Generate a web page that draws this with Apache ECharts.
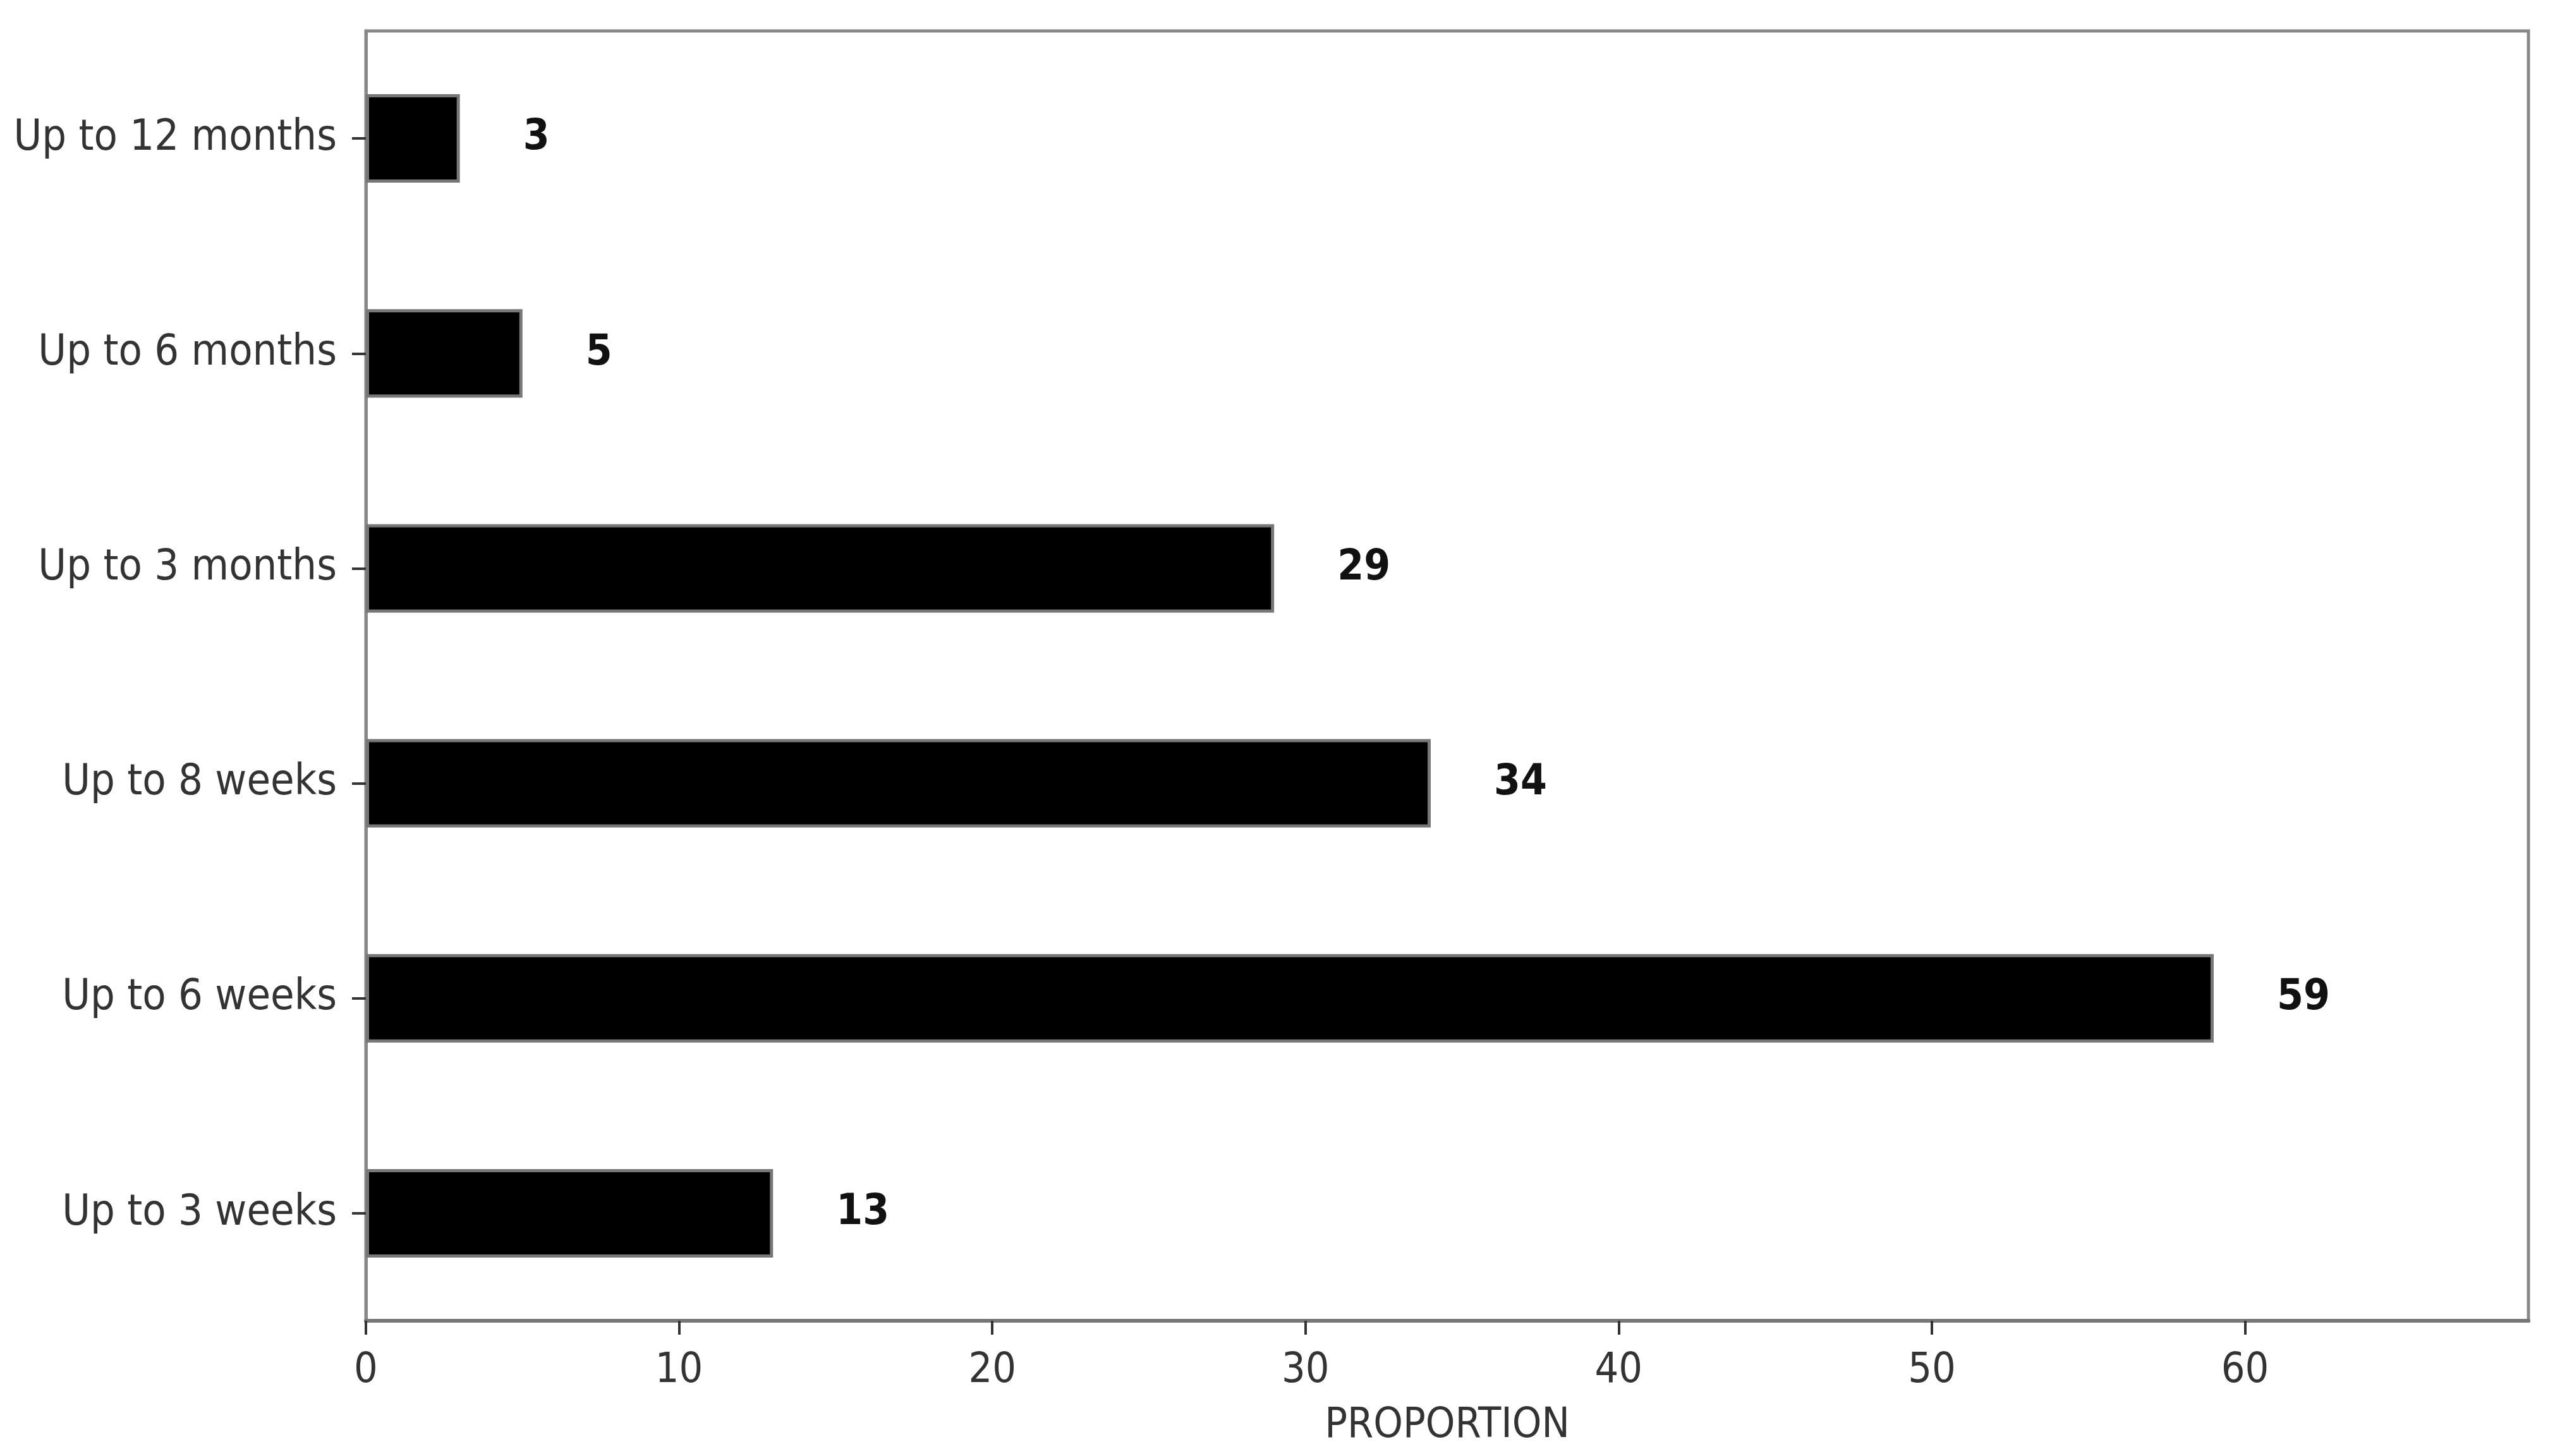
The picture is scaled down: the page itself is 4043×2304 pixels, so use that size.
<!DOCTYPE html>
<html>
<head>
<meta charset="utf-8">
<title>Proportion</title>
<script src="https://cdn.jsdelivr.net/npm/echarts@6/dist/echarts.min.js"></script>
<style>
  html, body { margin: 0; padding: 0; background: #fff; }
  #chart { width: 4043px; height: 2304px; }
</style>
</head>
<body>
<div id="chart"></div>
<script>
// categories listed top to bottom
const categories = ['Up to 12 months', 'Up to 6 months', 'Up to 3 months', 'Up to 8 weeks', 'Up to 6 weeks', 'Up to 3 weeks']
const proportions = [3, 5, 29, 34, 59, 13]
const xTicks = [0, 10, 20, 30, 40, 50, 60]

const font = '"DejaVu Sans Condensed", "DejaVu Sans", sans-serif'

const chart = echarts.init(document.getElementById('chart'))

const option = {
  backgroundColor: '#fff',
  animation: false,
  grid: {
    left: 579,
    top: 49,
    width: 3422,
    height: 2041,
    show: true,
    borderColor: '#888',
    borderWidth: 5,
    outerBoundsMode: 'none'
  },
  xAxis: {
    type: 'value',
    min: 0,
    max: 69.05,
    interval: 10,
    name: 'PROPORTION',
    nameLocation: 'middle',
    nameGap: 134,
    nameTextStyle: { fontFamily: font, fontSize: 66, color: '#333' },
    axisLine: { show: true, lineStyle: { color: '#777', width: 6 } },
    axisTick: { show: true, length: 22, lineStyle: { color: '#333', width: 4 } },
    axisLabel: {
      fontFamily: font,
      fontSize: 66,
      color: '#333',
      margin: 47,
      showMaxLabel: false,
      formatter: v => (xTicks.includes(v) ? String(v) : '')
    },
    splitLine: { show: false }
  },
  yAxis: {
    type: 'category',
    inverse: true,
    data: categories,
    axisLine: { show: true, lineStyle: { color: '#888', width: 5 } },
    axisTick: { show: true, alignWithLabel: true, length: 22, lineStyle: { color: '#333', width: 4 } },
    axisLabel: { fontFamily: font, fontSize: 68, color: '#333', margin: 46 },
    splitLine: { show: false }
  },
  series: [{
    type: 'bar',
    data: proportions,
    barWidth: 140,
    itemStyle: { color: '#000', borderColor: '#777', borderWidth: 5 },
    label: {
      show: true,
      position: 'right',
      distance: 100,
      fontFamily: font,
      fontWeight: 'bold',
      fontSize: 67,
      color: '#111'
    }
  }]
}

chart.setOption(option)
</script>
</body>
</html>
